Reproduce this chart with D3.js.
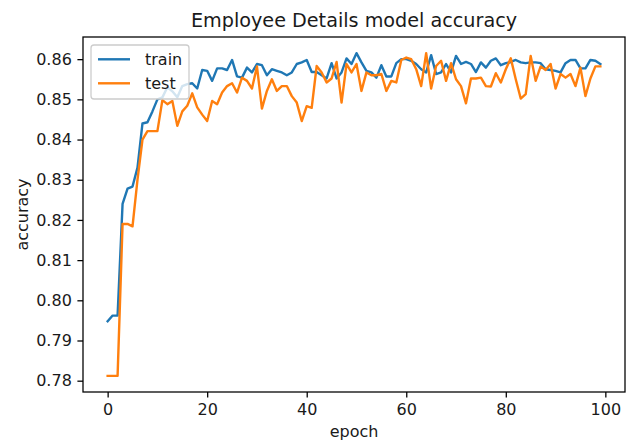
<!DOCTYPE html>
<html><head><meta charset="utf-8">
<script src="https://cdn.jsdelivr.net/npm/d3@7"></script>
<style>body{margin:0;background:#fff}svg{display:block}text{font-family:"DejaVu Sans",sans-serif;fill:#1a1a1a}</style>
</head><body>
<script>
const titleText = "Employee Details model accuracy";
const xLabel = "epoch";
const yLabel = "accuracy";
const seriesNames = ["train", "test"];
const trainAcc = [0.7948,0.7962,0.7962,0.8240,0.8278,0.8283,0.8330,0.8440,0.8443,0.8470,
0.8500,0.8505,0.8530,0.8520,0.8505,0.8533,0.8538,0.8540,0.8527,0.8573,
0.8571,0.8546,0.8577,0.8577,0.8573,0.8598,0.8557,0.8554,0.8579,0.8567,
0.8588,0.8585,0.8560,0.8575,0.8571,0.8567,0.8560,0.8567,0.8588,0.8592,
0.8598,0.8568,0.8568,0.8560,0.8552,0.8590,0.8552,0.8567,0.8602,0.8588,
0.8615,0.8592,0.8571,0.8567,0.8554,0.8585,0.8557,0.8557,0.8590,0.8600,
0.8600,0.8596,0.8588,0.8575,0.8567,0.8610,0.8563,0.8567,0.8588,0.8567,
0.8608,0.8588,0.8593,0.8588,0.8568,0.8592,0.8579,0.8596,0.8602,0.8585,
0.8590,0.8593,0.8598,0.8592,0.8590,0.8592,0.8592,0.8590,0.8575,0.8573,
0.8571,0.8567,0.8590,0.8598,0.8598,0.8577,0.8577,0.8598,0.8596,0.8588];
const testAcc = [0.7812,0.7812,0.7812,0.8190,0.8190,0.8184,0.8300,0.8400,0.8421,0.8421,
0.8421,0.8498,0.8488,0.8496,0.8434,0.8470,0.8484,0.8515,0.8480,0.8462,
0.8446,0.8496,0.8488,0.8517,0.8533,0.8540,0.8517,0.8554,0.8546,0.8527,
0.8582,0.8477,0.8521,0.8550,0.8521,0.8533,0.8533,0.8508,0.8492,0.8446,
0.8483,0.8479,0.8583,0.8567,0.8542,0.8552,0.8593,0.8492,0.8588,0.8567,
0.8588,0.8521,0.8567,0.8560,0.8560,0.8563,0.8521,0.8546,0.8542,0.8598,
0.8604,0.8600,0.8575,0.8533,0.8615,0.8527,0.8583,0.8596,0.8546,0.8590,
0.8550,0.8533,0.8490,0.8552,0.8552,0.8554,0.8533,0.8532,0.8565,0.8542,
0.8575,0.8602,0.8550,0.8502,0.8513,0.8608,0.8546,0.8582,0.8573,0.8588,
0.8527,0.8563,0.8554,0.8563,0.8533,0.8579,0.8508,0.8552,0.8582,0.8582];
const xTicks = [0,20,40,60,80,100];
const yTicks = [0.78,0.79,0.80,0.81,0.82,0.83,0.84,0.85,0.86];
const colors = ["#1f77b4","#ff7f0e"];

const W = 632, H = 441;
const m = {left:83, right:625, top:37, bottom:392};
const svg = d3.select("body").append("svg").attr("width",W).attr("height",H);

const n = trainAcc.length;
const xPad = (n-1)*0.05;
const x = d3.scaleLinear().domain([-xPad, (n-1)+xPad]).range([m.left, m.right]);
const all = trainAcc.concat(testAcc);
const yMin = d3.min(all), yMax = d3.max(all), yPad = (yMax-yMin)*0.05;
const y = d3.scaleLinear().domain([yMin-yPad, yMax+yPad]).range([m.bottom, m.top]);

const line = d3.line().x((d,i)=>x(i)).y(d=>y(d));
[trainAcc, testAcc].forEach((s,k)=>{
  svg.append("path").datum(s).attr("d",line).attr("fill","none")
    .attr("stroke",colors[k]).attr("stroke-width",2.4).attr("stroke-linejoin","round").attr("stroke-linecap","square");
});

// frame
svg.append("rect").attr("x",m.left).attr("y",m.top).attr("width",m.right-m.left).attr("height",m.bottom-m.top)
  .attr("fill","none").attr("stroke","#000").attr("stroke-width",1.28);

const xAxis = d3.axisBottom(x).tickValues(xTicks).tickFormat(d3.format("d")).tickSize(5.6).tickPadding(5.6);
const gx = svg.append("g").attr("transform",`translate(0,${m.bottom})`).call(xAxis);
const yAxis = d3.axisLeft(y).tickValues(yTicks).tickFormat(d3.format(".2f")).tickSize(5.6).tickPadding(5.6);
const gy = svg.append("g").attr("transform",`translate(${m.left},0)`).call(yAxis);
[gx,gy].forEach(g=>{
  g.select(".domain").remove();
  g.selectAll(".tick line").attr("stroke","#000").attr("stroke-width",1.28);
  g.selectAll(".tick text").style("font-family","DejaVu Sans").style("font-size","16px").attr("fill","#1a1a1a");
});

svg.append("text").attr("x",(m.left+m.right)/2).attr("y",27.4).attr("text-anchor","middle")
  .style("font-size","19.2px").text(titleText);
svg.append("text").attr("x",(m.left+m.right)/2).attr("y",436.5).attr("text-anchor","middle")
  .style("font-size","16px").text(xLabel);
svg.append("text").attr("transform",`translate(28,${(m.top+m.bottom)/2}) rotate(-90)`).attr("text-anchor","middle")
  .style("font-size","16px").text(yLabel);

// legend
const lg = svg.append("g");
lg.append("rect").attr("x",91).attr("y",45).attr("width",98).attr("height",54).attr("rx",3)
  .attr("fill","#fff").attr("fill-opacity",0.8).attr("stroke","#cccccc").attr("stroke-width",1.28);
seriesNames.forEach((s,k)=>{
  const cy = 59.3 + k*24;
  lg.append("line").attr("x1",98).attr("x2",130).attr("y1",cy).attr("y2",cy)
    .attr("stroke",colors[k]).attr("stroke-width",2.4);
  lg.append("text").attr("x",145).attr("y",cy).attr("dy","0.35em").style("font-size","16px").text(s);
});
</script>
</body></html>
